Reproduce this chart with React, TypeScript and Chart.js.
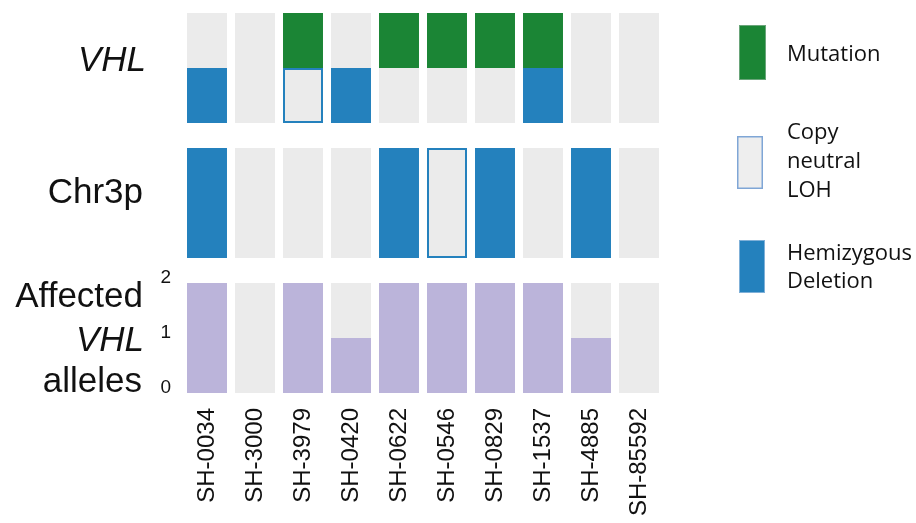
import React, { useEffect, useRef } from "react";
import { Chart, registerables } from "chart.js";

Chart.register(...registerables);

// ---------- data ----------
const samples = [
  "SH-0034", "SH-3000", "SH-3979", "SH-0420", "SH-0622",
  "SH-0546", "SH-0829", "SH-1537", "SH-4885", "SH-85592",
];
// VHL first hit: 1 = mutation
const vhlMutation = [0, 0, 1, 0, 1, 1, 1, 1, 0, 0];
// VHL second hit: "del" = hemizygous deletion, "cnloh" = copy neutral LOH, "" = none
const vhlSecondHit = ["del", "", "cnloh", "del", "", "", "", "del", "", ""];
// Chr3p status
const chr3pStatus = ["del", "", "", "", "del", "cnloh", "del", "", "del", ""];
// Affected VHL alleles (0..2)
const affectedAlleles = [2, 0, 2, 1, 2, 2, 2, 2, 1, 0];
const alleleTicks = [0, 1, 2];
const legendLabels = [["Mutation"], ["Copy", "neutral", "LOH"], ["Hemizygous", "Deletion"]];

// ---------- style / layout ----------
const GREEN = "#1b8535";
const BLUE = "#2481bd";
const PURPLE = "#bbb4da";
const GREY = "#ebebeb";
const ROW = 2;
const GAP = 0.4545;
const ALLELE_ROW: [number, number] = [0, ROW];
const CHR_ROW: [number, number] = [ROW + GAP, 2 * ROW + GAP];
const VHL_ROW: [number, number] = [2 * ROW + 2 * GAP, 3 * ROW + 2 * GAP];
const VHL_MID = VHL_ROW[0] + ROW / 2;

const bar = {
  barPercentage: 0.833,
  categoryPercentage: 1,
  grouped: false,
  borderSkipped: false as const,
};

const labelsPlugin = {
  id: "rowLabels",
  afterDraw(chart: any) {
    const { ctx, chartArea, scales } = chart;
    const y = scales.y;
    const xr = chartArea.left - 40;
    ctx.save();
    ctx.fillStyle = "#111";
    ctx.textAlign = "right";
    ctx.textBaseline = "alphabetic";
    ctx.font = "italic 35px 'Liberation Sans', Arial, sans-serif";
    ctx.fillText("VHL", xr + 3, y.getPixelForValue(VHL_MID) + 3);
    ctx.font = "35px 'Liberation Sans', Arial, sans-serif";
    ctx.fillText("Chr3p", xr, y.getPixelForValue((CHR_ROW[0] + CHR_ROW[1]) / 2));
    const c = y.getPixelForValue(1);
    ctx.font = "35px 'Liberation Sans', Arial, sans-serif";
    ctx.fillText("Affected", xr, c - 31);
    ctx.font = "italic 35px 'Liberation Sans', Arial, sans-serif";
    ctx.fillText("VHL", xr + 1, c + 13);
    ctx.font = "35px 'Liberation Sans', Arial, sans-serif";
    ctx.fillText("alleles", xr - 1, c + 54);

    // legend
    const lx = chartArea.right + 76;
    const tx = chartArea.right + 124;
    ctx.textAlign = "left";
    ctx.font = "22px 'Open Sans', 'Noto Sans', sans-serif";
    // Mutation
    ctx.fillStyle = GREEN;
    ctx.fillRect(lx, 25, 27, 55);
    ctx.strokeStyle = "#6aa57a";
    ctx.lineWidth = 1;
    ctx.strokeRect(lx + 0.5, 25.5, 26, 54);
    ctx.fillStyle = "#111";
    ctx.fillText(legendLabels[0][0], tx, 61);
    // CN-LOH
    ctx.fillStyle = "#eeeeee";
    ctx.fillRect(lx - 2, 136, 26, 53);
    ctx.strokeStyle = "#7fa6d6";
    ctx.lineWidth = 1.5;
    ctx.strokeRect(lx - 1.25, 136.75, 24.5, 51.5);
    ctx.fillStyle = "#111";
    legendLabels[1].forEach((t, i) => ctx.fillText(t, tx, 139 + i * 29));
    // Hemizygous
    ctx.fillStyle = BLUE;
    ctx.fillRect(lx, 240, 26, 53);
    ctx.strokeStyle = "#7fb0d8";
    ctx.lineWidth = 1;
    ctx.strokeRect(lx + 0.5, 240.5, 25, 52);
    ctx.fillStyle = "#111";
    legendLabels[2].forEach((t, i) => ctx.fillText(t, tx, 260 + i * 28));
    ctx.restore();
  },
};

export default function App() {
  const ref = useRef<HTMLCanvasElement>(null);

  useEffect(() => {
    if (!ref.current) return;
    const bg = (row: [number, number]) => samples.map(() => [row[0], row[1]]);
    const chart = new Chart(ref.current, {
      type: "bar",
      data: {
        labels: samples,
        datasets: [
          { ...bar, label: "bgVHL", data: bg(VHL_ROW) as any, backgroundColor: GREY, order: 10 },
          { ...bar, label: "bgChr", data: bg(CHR_ROW) as any, backgroundColor: GREY, order: 10 },
          { ...bar, label: "bgAll", data: bg(ALLELE_ROW) as any, backgroundColor: GREY, order: 10 },
          {
            ...bar, label: "Mutation", order: 1, backgroundColor: GREEN,
            data: vhlMutation.map((m) => (m ? [VHL_MID, VHL_ROW[1]] : null)) as any,
          },
          {
            ...bar, label: "VHL deletion", order: 1, backgroundColor: BLUE,
            data: vhlSecondHit.map((s) => (s === "del" ? [VHL_ROW[0], VHL_MID] : null)) as any,
          },
          {
            ...bar, label: "VHL CN-LOH", order: 1, backgroundColor: GREY, borderColor: BLUE, borderWidth: 2,
            data: vhlSecondHit.map((s) => (s === "cnloh" ? [VHL_ROW[0], VHL_MID] : null)) as any,
          },
          {
            ...bar, label: "Chr3p deletion", order: 1, backgroundColor: BLUE,
            data: chr3pStatus.map((s) => (s === "del" ? [CHR_ROW[0], CHR_ROW[1]] : null)) as any,
          },
          {
            ...bar, label: "Chr3p CN-LOH", order: 1, backgroundColor: GREY, borderColor: BLUE, borderWidth: 2,
            data: chr3pStatus.map((s) => (s === "cnloh" ? [CHR_ROW[0], CHR_ROW[1]] : null)) as any,
          },
          {
            ...bar, label: "Affected alleles", order: 1, backgroundColor: PURPLE,
            data: affectedAlleles.map((v) => (v > 0 ? [0, v] : null)) as any,
          },
        ],
      },
      options: {
        animation: false,
        responsive: true,
        maintainAspectRatio: false,
        layout: { padding: { top: 13, right: 253, left: 0, bottom: 0 } },
        plugins: { legend: { display: false }, tooltip: { enabled: false } },
        scales: {
          x: {
            type: "category",
            grid: { display: false, drawTicks: false },
            border: { display: false },
            ticks: {
              autoSkip: false,
              minRotation: 90,
              maxRotation: 90,
              padding: 15,
              color: "#111",
              font: { size: 24, family: "'Liberation Sans', Arial, sans-serif" },
            },
            afterFit: (s: any) => {
              s.height = 130;
              s.paddingLeft = 0;
              s.paddingRight = 0;
            },
          },
          y: {
            type: "linear",
            min: 0,
            max: VHL_ROW[1],
            grid: { display: false, drawTicks: false },
            border: { display: false },
            afterBuildTicks: (s: any) => {
              s.ticks = alleleTicks.map((v) => ({ value: v }));
            },
            ticks: {
              padding: 12,
              labelOffset: -5,
              color: "#111",
              font: { size: 19, family: "'Liberation Sans', Arial, sans-serif" },
              callback: (v: any) => String(v),
            },
            afterFit: (s: any) => {
              s.width = 183;
              s.paddingTop = 0;
              s.paddingBottom = 0;
            },
          },
        },
      },
      plugins: [labelsPlugin],
    });
    return () => chart.destroy();
  }, []);

  return (
    <div style={{ position: "absolute", left: 0, top: 0, width: 916, height: 523 }}>
      <canvas ref={ref} />
    </div>
  );
}
